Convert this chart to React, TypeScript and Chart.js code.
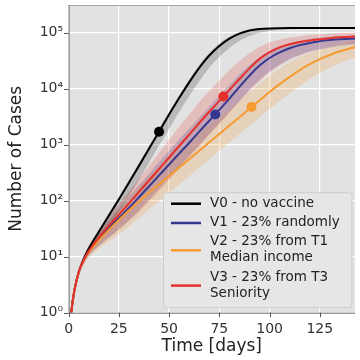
import React, { useEffect, useRef } from 'react';
import { Chart, registerables } from 'chart.js';

Chart.register(...registerables);

// ---- data ----
const days = [1.3, 2, 3, 5, 7.5, 10, 15, 20, 25, 30, 35, 40, 45, 50, 55, 60, 65, 70, 75, 80, 85, 90, 95, 100, 105, 110, 115, 120, 125, 130, 135, 143];

const v0 = [1, 1.58, 2.63, 5.25, 9.1, 13.8, 27.5, 53.7, 105, 209, 417, 841, 1700, 3430, 6760, 12900, 23400, 38900, 57500, 77600, 95500, 108400, 115300, 118600, 119700, 120000, 120000, 120000, 120000, 120000, 120000, 120000];
const v0Upper = [1.05, 1.65, 2.75, 5.5, 9.7, 15, 30.5, 60, 118, 235, 470, 950, 1920, 3880, 7600, 14500, 26300, 43500, 63500, 84000, 101000, 112000, 118000, 120500, 121300, 121500, 121500, 121500, 121500, 121500, 121500, 121500];
const v0Lower = [0.95, 1.5, 2.5, 4.9, 8.3, 12, 21, 36, 62, 118, 235, 470, 950, 1920, 3800, 7300, 13500, 23500, 36500, 53000, 71000, 87000, 99000, 107000, 112000, 115000, 116500, 117500, 117500, 117500, 117500, 117500];

const v1 = [1, 1.58, 2.63, 5.25, 8.7, 12.3, 20.9, 32.4, 49, 74.1, 115, 180, 282, 442, 692, 1080, 1700, 2660, 4170, 6610, 10700, 17000, 25700, 35100, 44200, 52500, 59600, 65300, 70000, 73300, 75900, 78500];
const v1Upper = [1.05, 1.66, 2.75, 5.62, 9.55, 14.1, 25.7, 43.7, 70.8, 115, 186, 302, 490, 776, 1230, 1930, 3020, 4730, 7410, 11500, 17800, 26300, 36300, 46800, 56200, 64600, 71600, 77600, 81300, 84100, 86100, 88100];
const v1Lower = [0.955, 1.51, 2.45, 4.79, 7.76, 10.5, 15.5, 21.9, 30.9, 44.7, 67.6, 105, 162, 257, 398, 631, 977, 1550, 2400, 3800, 6030, 9550, 14500, 20400, 26900, 33900, 39800, 45700, 50100, 54300, 57500, 61700];

const v2 = [1, 1.58, 2.63, 5.25, 8.5, 12, 19.3, 29.9, 45.2, 66.8, 96.6, 138, 195, 275, 389, 550, 776, 1100, 1550, 2190, 3090, 4370, 6170, 8710, 12000, 16200, 21400, 27200, 33500, 39800, 46200, 55600];
const v2Upper = [1.05, 1.66, 2.75, 5.62, 9.55, 14.1, 25.1, 42.7, 72.4, 117, 182, 269, 389, 550, 776, 1100, 1550, 2190, 3090, 4370, 6170, 8710, 12300, 17000, 22900, 29500, 36700, 44200, 51300, 57500, 63100, 70800];
const v2Lower = [0.955, 1.51, 2.45, 4.68, 7.41, 9.77, 13.8, 18.6, 25.1, 34.7, 49, 69.2, 97.7, 138, 195, 275, 389, 550, 776, 1100, 1550, 2190, 3090, 4370, 6030, 8320, 11200, 14800, 19100, 23400, 28200, 36300];

const v3 = [1, 1.58, 2.63, 5.25, 8.7, 12.6, 21.9, 35.5, 56.2, 89.1, 143, 229, 367, 589, 944, 1510, 2430, 3850, 6030, 9440, 14800, 22900, 33900, 44700, 54300, 61700, 67600, 72400, 75900, 79400, 82200, 85100];
const v3Upper = [1.05, 1.66, 2.82, 5.75, 10, 15.5, 29.5, 51.3, 87.1, 145, 245, 417, 724, 1230, 2090, 3470, 5750, 9120, 14100, 21400, 30900, 42700, 55000, 66100, 75000, 81300, 86100, 90200, 93300, 95500, 97700, 100000];
const v3Lower = [0.955, 1.51, 2.45, 4.68, 7.4, 10, 15.5, 21.4, 29.5, 42.7, 63, 95.5, 148, 234, 372, 589, 933, 1480, 2340, 3720, 5890, 9120, 13500, 19100, 25700, 32400, 38900, 45200, 51300, 56200, 60300, 64600];

const dotDays = [45, 73, 91, 77];
const dotValues = [1700, 3450, 4700, 7200];

const seriesLabels = [
  ['V0 - no vaccine'],
  ['V1 - 23% randomly'],
  ['V2 - 23% from T1', 'Median income'],
  ['V3 - 23% from T3', 'Seniority'],
];

const xTickValues = [0, 25, 50, 75, 100, 125];
const yTickValues = [1, 10, 100, 1000, 10000, 100000];
const yTickLabels = ['10⁰', '10¹', '10²', '10³', '10⁴', '10⁵'];

// ---- styles ----
const colors = ['#000000', '#363890', '#f59b32', '#e5302c'];
const bandColors = ['rgba(0,0,0,0.18)', 'rgba(54,56,144,0.2)', 'rgba(245,155,50,0.22)', 'rgba(229,48,44,0.2)'];
const FONT = "'DejaVu Sans', sans-serif";

const isPow10 = (v: number) => {
  const l = Math.log10(v);
  return Math.abs(l - Math.round(l)) < 1e-6;
};

const pts = (ys: number[]) => days.map((d, i) => ({ x: d, y: ys[i] }));

const plotBg = {
  id: 'plotBg',
  beforeDraw(chart: any) {
    const { ctx, chartArea: a } = chart;
    ctx.save();
    ctx.fillStyle = '#e2e2e2';
    ctx.fillRect(a.left, a.top, a.right - a.left, a.bottom - a.top);
    ctx.restore();
  },
};

const decor = {
  id: 'decor',
  afterDraw(chart: any) {
    const { ctx, chartArea: a, scales } = chart;
    const ys = scales.y;
    const xs = scales.x;
    ctx.save();
    // legend
    const boxW = 188.5;
    const boxH = 115;
    const bx = a.right - 3 - boxW;
    const by = a.bottom - 5 - boxH;
    ctx.beginPath();
    const r = 3;
    ctx.moveTo(bx + r, by);
    ctx.arcTo(bx + boxW, by, bx + boxW, by + boxH, r);
    ctx.arcTo(bx + boxW, by + boxH, bx, by + boxH, r);
    ctx.arcTo(bx, by + boxH, bx, by, r);
    ctx.arcTo(bx, by, bx + boxW, by, r);
    ctx.closePath();
    ctx.fillStyle = '#e6e6e6';
    ctx.fill();
    ctx.strokeStyle = '#cdcdcd';
    ctx.lineWidth = 1;
    ctx.stroke();

    ctx.font = `13.5px ${FONT}`;
    ctx.textBaseline = 'middle';
    ctx.textAlign = 'left';
    let y = by + 10.5;
    seriesLabels.forEach((lines, i) => {
      const ys0 = y;
      lines.forEach((t, k) => {
        ctx.fillStyle = '#222';
        ctx.fillText(t, bx + 46.5, y + k * 16);
      });
      const last = y + (lines.length - 1) * 16;
      const my = (ys0 + last) / 2 + 0.5;
      ctx.strokeStyle = colors[i];
      ctx.lineWidth = 2.5;
      ctx.beginPath();
      ctx.moveTo(bx + 7.5, my);
      ctx.lineTo(bx + 37.5, my);
      ctx.stroke();
      y = last + 19.3;
    });

    // frame
    ctx.lineWidth = 1;
    ctx.strokeStyle = '#a8a8a8';
    ctx.beginPath();
    ctx.moveTo(a.left, a.top + 0.5);
    ctx.lineTo(a.right, a.top + 0.5);
    ctx.stroke();
    ctx.strokeStyle = '#6a6a6a';
    ctx.beginPath();
    ctx.moveTo(a.left + 0.5, a.top);
    ctx.lineTo(a.left + 0.5, a.bottom + 0.5);
    ctx.lineTo(a.right, a.bottom + 0.5);
    ctx.stroke();

    // y tick marks
    ctx.strokeStyle = '#555';
    ys.ticks.forEach((t: any) => {
      const p = ys.getPixelForValue(t.value);
      if (p < a.top - 0.5 || p > a.bottom + 0.5) return;
      const len = isPow10(t.value) ? 4.5 : 2.5;
      ctx.beginPath();
      ctx.moveTo(a.left - len, Math.round(p) + 0.5);
      ctx.lineTo(a.left, Math.round(p) + 0.5);
      ctx.stroke();
    });
    // x tick marks
    xTickValues.forEach((v) => {
      const p = xs.getPixelForValue(v);
      ctx.beginPath();
      ctx.moveTo(Math.round(p) + 0.5, a.bottom);
      ctx.lineTo(Math.round(p) + 0.5, a.bottom + 4.5);
      ctx.stroke();
    });
    ctx.restore();
  },
};

export default function App() {
  const ref = useRef<HTMLCanvasElement | null>(null);

  useEffect(() => {
    if (!ref.current) return;
    Chart.defaults.font.family = FONT;
    const lines = [v0, v1, v2, v3];
    const uppers = [v0Upper, v1Upper, v2Upper, v3Upper];
    const lowers = [v0Lower, v1Lower, v2Lower, v3Lower];
    const datasets: any[] = [];
    datasets.push({
      label: 'dots',
      data: dotDays.map((d, i) => ({ x: d, y: dotValues[i] })),
      showLine: false,
      pointRadius: 5,
      pointBackgroundColor: colors,
      pointBorderWidth: 0,
      order: 0,
    });
    [3, 2, 1, 0].forEach((i, k) => {
      datasets.push({
        label: seriesLabels[i].join(' '),
        data: pts(lines[i]),
        borderColor: colors[i],
        borderWidth: 2,
        pointRadius: 0,
        fill: false,
        cubicInterpolationMode: 'monotone',
        order: 1 + k,
      });
    });
    [0, 1, 2, 3].forEach((i) => {
      datasets.push({
        label: 'up' + i,
        data: pts(uppers[i]),
        borderWidth: 0,
        borderColor: 'rgba(0,0,0,0)',
        pointRadius: 0,
        fill: false,
        cubicInterpolationMode: 'monotone',
        order: 10 + i,
      });
      datasets.push({
        label: 'lo' + i,
        data: pts(lowers[i]),
        borderWidth: 0,
        borderColor: 'rgba(0,0,0,0)',
        backgroundColor: bandColors[i],
        pointRadius: 0,
        fill: '-1',
        cubicInterpolationMode: 'monotone',
        order: 10 + i,
      });
    });

    const chart = new Chart(ref.current, {
      type: 'line',
      data: { datasets },
      options: {
        responsive: false,
        animation: false,
        devicePixelRatio: 1,
        layout: { padding: { top: 5, right: 2, left: 0, bottom: 0 } },
        plugins: { legend: { display: false }, tooltip: { enabled: false } },
        scales: {
          x: {
            type: 'linear',
            min: 0,
            max: 142.5,
            border: { display: false },
            grid: { color: '#ffffff', lineWidth: 1.2, drawTicks: false },
            ticks: {
              stepSize: 25,
              includeBounds: false,
              autoSkip: false,
              maxRotation: 0,
              padding: 8,
              color: '#333',
              font: { size: 14, family: FONT },
            },
            title: {
              display: true,
              text: 'Time [days]',
              color: '#222',
              font: { size: 17, family: FONT },
              padding: { top: 0, bottom: 3 },
            },
            afterFit: (s: any) => {
              s.height = 47.3;
              s.paddingLeft = 0;
              s.paddingRight = 0;
            },
          },
          y: {
            type: 'logarithmic',
            min: 1,
            max: 310000,
            border: { display: false },
            grid: {
              color: (c: any) => (c.tick && isPow10(c.tick.value) ? '#ffffff' : 'rgba(0,0,0,0)'),
              lineWidth: 1.2,
              drawTicks: false,
            },
            ticks: {
              autoSkip: false,
              padding: 5.5,
              color: '#333',
              font: { size: 14, family: FONT },
              callback: (v: any) => {
                const idx = yTickValues.findIndex((t) => Math.abs(Math.log10(t) - Math.log10(Number(v))) < 1e-6);
                return idx >= 0 ? yTickLabels[idx] : null;
              },
            },
            title: {
              display: true,
              text: 'Number of Cases',
              color: '#222',
              font: { size: 17, family: FONT },
              padding: { top: 6, bottom: 0 },
            },
            afterFit: (s: any) => {
              s.width = 68.6;
              s.paddingTop = 0;
              s.paddingBottom = 0;
            },
          },
        },
      },
      plugins: [plotBg, decor],
    } as any);
    return () => chart.destroy();
  }, []);

  return (
    <div style={{ position: 'fixed', left: 0, top: 0, width: 360, height: 360, background: '#fff' }}>
      <canvas ref={ref} width={360} height={360} style={{ display: 'block' }} />
    </div>
  );
}
